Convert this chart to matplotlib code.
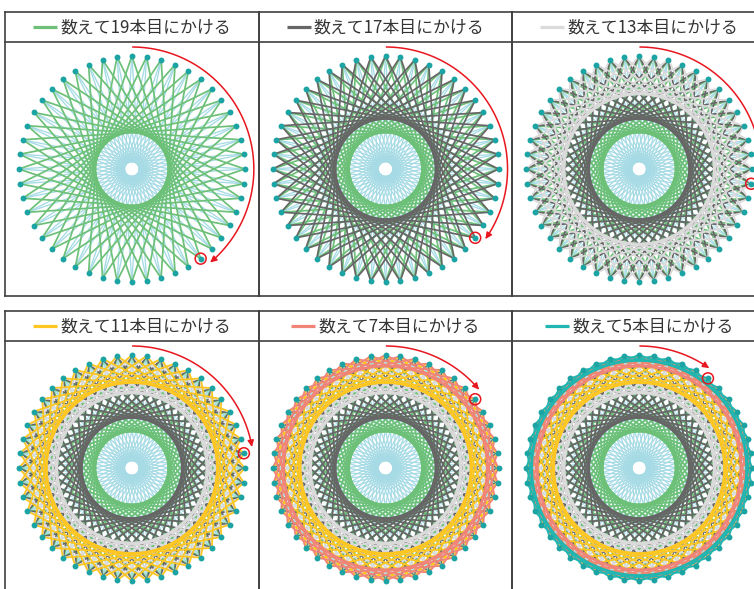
import numpy as np
import matplotlib
matplotlib.use("Agg")
import matplotlib.pyplot as plt
from matplotlib.collections import LineCollection
from matplotlib.patches import Circle, FancyArrowPatch

plt.rcParams['font.family'] = ['Noto Sans CJK JP', 'DejaVu Sans']

# ---- data ----
n_pins = 48
base_step = 23
base_color = '#a6dbe5'
steps = [19, 17, 13, 11, 7, 5]
step_colors = ['#6cc077', '#666666', '#dadada', '#fdc620', '#f08479', '#20b6b1']
titles = ['数えて19本目にかける', '数えて17本目にかける', '数えて13本目にかける',
          '数えて11本目にかける', '数えて7本目にかける', '数えて5本目にかける']
pin_color = '#1ca3a3'

W, H = 754, 589
fig = plt.figure(figsize=(W / 100, H / 100), dpi=100)
ax = fig.add_axes([0, 0, 1, 1])
ax.set_xlim(0, W)
ax.set_ylim(H, 0)
ax.axis('off')

col_x = [5, 258.7, 512.3]
pw = col_x[1] - col_x[0]
row_top = [12, 311]
head_h = 30
row_bottom = [296, 620]
R = 113
edge = '#404040'

renderer = fig.canvas.get_renderer()


def pin_xy(cx, cy, idx):
    a = 2 * np.pi * np.asarray(idx) / n_pins
    return cx + R * np.sin(a), cy - R * np.cos(a)


def chords(cx, cy, k):
    i = np.arange(n_pins)
    x0, y0 = pin_xy(cx, cy, i)
    x1, y1 = pin_xy(cx, cy, (i + k) % n_pins)
    return [[(a, b), (c, d)] for a, b, c, d in zip(x0, y0, x1, y1)]


for p in range(6):
    r, c = divmod(p, 3)
    left = col_x[c]
    right = left + pw
    top = row_top[r]
    bottom = row_bottom[r]
    cx = left + pw / 2
    cy = top + head_h + 127

    # frame
    for xs, ys in [([left, left], [top, bottom]), ([right, right], [top, bottom]),
                   ([left, right], [top, top]), ([left, right], [top + head_h, top + head_h]),
                   ([left, right], [bottom, bottom])]:
        ax.plot(xs, ys, color=edge, lw=1.2, zorder=10)

    # header: legend line + text, centered as a group
    t = ax.text(0, top + head_h / 2 + 0.5, titles[p], fontsize=12.2, color='#333333',
                ha='left', va='center', zorder=11)
    bb = t.get_window_extent(renderer=renderer)
    tw = bb.width
    gap = 27
    start = cx - (gap + tw) / 2
    t.set_x(start + gap)
    ax.plot([start, start + 24], [top + head_h / 2, top + head_h / 2],
            color=step_colors[p], lw=2.3, solid_capstyle='butt', zorder=11)

    # string layers
    ax.add_collection(LineCollection(chords(cx, cy, base_step), colors=base_color,
                                     linewidths=0.95, zorder=2))
    for j in range(p + 1):
        ax.add_collection(LineCollection(chords(cx, cy, steps[j]), colors=step_colors[j],
                                         linewidths=1.25, zorder=3 + j))

    # pins
    px, py = pin_xy(cx, cy, np.arange(n_pins))
    ax.scatter(px, py, s=18, color=pin_color, zorder=9, linewidths=0)

    # red arrow arc and circled target pin
    k = steps[p]
    ang_end = 360 * k / n_pins - 1.2
    Ra = 122
    theta = np.radians(np.linspace(0.5, ang_end - 3, 80))
    ax.plot(cx + Ra * np.sin(theta), cy - Ra * np.cos(theta), color='#e8161e', lw=1.1, zorder=12)
    a1 = np.radians(ang_end - 3.5)
    a2 = np.radians(ang_end)
    arr = FancyArrowPatch((cx + Ra * np.sin(a1), cy - Ra * np.cos(a1)),
                          (cx + Ra * np.sin(a2), cy - Ra * np.cos(a2)),
                          arrowstyle='-|>', mutation_scale=9, color='#e8161e', lw=1.1, zorder=12)
    ax.add_patch(arr)
    tx, ty = pin_xy(cx, cy, k)
    ax.add_patch(Circle((tx, ty), 5.5, fill=False, ec='#e8161e', lw=1.1, zorder=12))

fig.savefig('out.png', dpi=100)
